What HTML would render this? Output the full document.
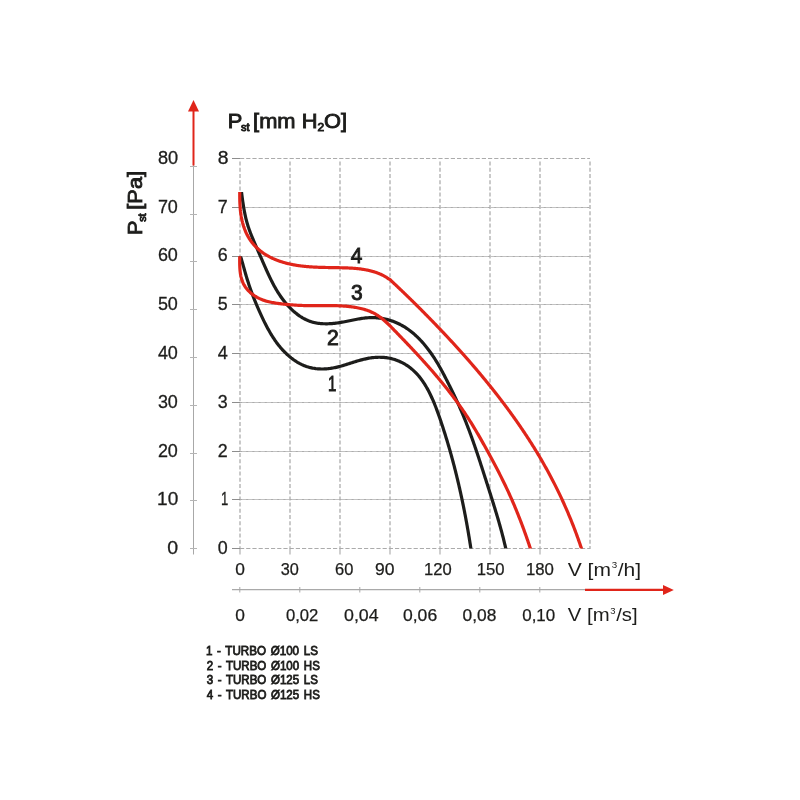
<!DOCTYPE html>
<html><head><meta charset="utf-8"><style>
html,body{margin:0;padding:0;background:#fff;width:800px;height:800px;overflow:hidden}
svg{display:block;will-change:transform}
text{font-family:"Liberation Sans",sans-serif;fill:#1d1d1b}
</style></head><body>
<svg width="800" height="800" viewBox="0 0 800 800">
<rect width="800" height="800" fill="#fff"/>
<line x1="240.0" y1="161.6" x2="240.0" y2="546.5" stroke="#c9c9c9" stroke-width="2" stroke-dasharray="4 2.2"/>
<line x1="240.0" y1="546.5" x2="240.0" y2="554.5" stroke="#c4c4c4" stroke-width="1.6"/>
<line x1="290.0" y1="161.6" x2="290.0" y2="546.5" stroke="#c9c9c9" stroke-width="2" stroke-dasharray="4 2.2"/>
<line x1="290.0" y1="546.5" x2="290.0" y2="554.5" stroke="#c4c4c4" stroke-width="1.6"/>
<line x1="340.0" y1="161.6" x2="340.0" y2="546.5" stroke="#c9c9c9" stroke-width="2" stroke-dasharray="4 2.2"/>
<line x1="340.0" y1="546.5" x2="340.0" y2="554.5" stroke="#c4c4c4" stroke-width="1.6"/>
<line x1="390.0" y1="161.6" x2="390.0" y2="546.5" stroke="#c9c9c9" stroke-width="2" stroke-dasharray="4 2.2"/>
<line x1="390.0" y1="546.5" x2="390.0" y2="554.5" stroke="#c4c4c4" stroke-width="1.6"/>
<line x1="440.0" y1="161.6" x2="440.0" y2="546.5" stroke="#c9c9c9" stroke-width="2" stroke-dasharray="4 2.2"/>
<line x1="440.0" y1="546.5" x2="440.0" y2="554.5" stroke="#c4c4c4" stroke-width="1.6"/>
<line x1="490.0" y1="161.6" x2="490.0" y2="546.5" stroke="#c9c9c9" stroke-width="2" stroke-dasharray="4 2.2"/>
<line x1="490.0" y1="546.5" x2="490.0" y2="554.5" stroke="#c4c4c4" stroke-width="1.6"/>
<line x1="540.0" y1="161.6" x2="540.0" y2="546.5" stroke="#c9c9c9" stroke-width="2" stroke-dasharray="4 2.2"/>
<line x1="540.0" y1="546.5" x2="540.0" y2="554.5" stroke="#c4c4c4" stroke-width="1.6"/>
<line x1="590.0" y1="161.6" x2="590.0" y2="549.0" stroke="#c9c9c9" stroke-width="2" stroke-dasharray="4 2.2"/>
<line x1="232" y1="548.5" x2="240" y2="548.5" stroke="#8d8d8d" stroke-width="1"/>
<line x1="240" y1="548.5" x2="590" y2="548.5" stroke="#ababab" stroke-width="1" stroke-dasharray="4.2 2"/>
<line x1="232" y1="499.5" x2="240" y2="499.5" stroke="#8d8d8d" stroke-width="1"/>
<line x1="240" y1="499.5" x2="590" y2="499.5" stroke="#c2c2c2" stroke-width="1"/>
<line x1="240" y1="499.5" x2="590" y2="499.5" stroke="#acacac" stroke-width="1" stroke-dasharray="2 4.2"/>
<line x1="232" y1="451.5" x2="240" y2="451.5" stroke="#8d8d8d" stroke-width="1"/>
<line x1="240" y1="451.5" x2="590" y2="451.5" stroke="#c2c2c2" stroke-width="1"/>
<line x1="240" y1="451.5" x2="590" y2="451.5" stroke="#acacac" stroke-width="1" stroke-dasharray="2 4.2"/>
<line x1="232" y1="402.5" x2="240" y2="402.5" stroke="#8d8d8d" stroke-width="1"/>
<line x1="240" y1="402.5" x2="590" y2="402.5" stroke="#c2c2c2" stroke-width="1"/>
<line x1="240" y1="402.5" x2="590" y2="402.5" stroke="#acacac" stroke-width="1" stroke-dasharray="2 4.2"/>
<line x1="232" y1="353.5" x2="240" y2="353.5" stroke="#8d8d8d" stroke-width="1"/>
<line x1="240" y1="353.5" x2="590" y2="353.5" stroke="#c2c2c2" stroke-width="1"/>
<line x1="240" y1="353.5" x2="590" y2="353.5" stroke="#acacac" stroke-width="1" stroke-dasharray="2 4.2"/>
<line x1="232" y1="304.5" x2="240" y2="304.5" stroke="#8d8d8d" stroke-width="1"/>
<line x1="240" y1="304.5" x2="590" y2="304.5" stroke="#c2c2c2" stroke-width="1"/>
<line x1="240" y1="304.5" x2="590" y2="304.5" stroke="#acacac" stroke-width="1" stroke-dasharray="2 4.2"/>
<line x1="232" y1="256.5" x2="240" y2="256.5" stroke="#8d8d8d" stroke-width="1"/>
<line x1="240" y1="256.5" x2="590" y2="256.5" stroke="#c2c2c2" stroke-width="1"/>
<line x1="240" y1="256.5" x2="590" y2="256.5" stroke="#acacac" stroke-width="1" stroke-dasharray="2 4.2"/>
<line x1="232" y1="207.5" x2="240" y2="207.5" stroke="#8d8d8d" stroke-width="1"/>
<line x1="240" y1="207.5" x2="590" y2="207.5" stroke="#c2c2c2" stroke-width="1"/>
<line x1="240" y1="207.5" x2="590" y2="207.5" stroke="#acacac" stroke-width="1" stroke-dasharray="2 4.2"/>
<line x1="232" y1="158.5" x2="240" y2="158.5" stroke="#8d8d8d" stroke-width="1"/>
<line x1="240" y1="158.5" x2="590" y2="158.5" stroke="#ababab" stroke-width="1" stroke-dasharray="4.2 2"/>
<line x1="193.5" y1="165" x2="193.5" y2="554.5" stroke="#a8a8a8" stroke-width="1"/>
<line x1="190" y1="166.5" x2="197" y2="166.5" stroke="#b5b5b5" stroke-width="1"/>
<line x1="190" y1="214.5" x2="197" y2="214.5" stroke="#b5b5b5" stroke-width="1"/>
<line x1="190" y1="261.5" x2="197" y2="261.5" stroke="#b5b5b5" stroke-width="1"/>
<line x1="190" y1="309.5" x2="197" y2="309.5" stroke="#b5b5b5" stroke-width="1"/>
<line x1="190" y1="357.5" x2="197" y2="357.5" stroke="#b5b5b5" stroke-width="1"/>
<line x1="190" y1="405.5" x2="197" y2="405.5" stroke="#b5b5b5" stroke-width="1"/>
<line x1="190" y1="453.5" x2="197" y2="453.5" stroke="#b5b5b5" stroke-width="1"/>
<line x1="190" y1="500.5" x2="197" y2="500.5" stroke="#b5b5b5" stroke-width="1"/>
<line x1="190" y1="548.5" x2="197" y2="548.5" stroke="#b5b5b5" stroke-width="1"/>
<line x1="193.5" y1="110" x2="193.5" y2="165.5" stroke="#e0251a" stroke-width="2"/>
<path d="M193.5 100 L199 111.5 L188 111.5 Z" fill="#e0251a"/>
<line x1="232" y1="589.6" x2="586" y2="589.6" stroke="#a9a9a9" stroke-width="1.1"/>
<line x1="239.8" y1="587" x2="239.8" y2="592.5" stroke="#a8a8a8" stroke-width="1"/>
<line x1="299.8" y1="587" x2="299.8" y2="592.5" stroke="#a8a8a8" stroke-width="1"/>
<line x1="359.8" y1="587" x2="359.8" y2="592.5" stroke="#a8a8a8" stroke-width="1"/>
<line x1="419.8" y1="587" x2="419.8" y2="592.5" stroke="#a8a8a8" stroke-width="1"/>
<line x1="479.8" y1="587" x2="479.8" y2="592.5" stroke="#a8a8a8" stroke-width="1"/>
<line x1="539.8" y1="587" x2="539.8" y2="592.5" stroke="#a8a8a8" stroke-width="1"/>
<line x1="585" y1="589.9" x2="663" y2="589.9" stroke="#e0251a" stroke-width="2.2"/>
<path d="M673.8 589.9 L663 584.9 L663 594.9 Z" fill="#e0251a"/>
<defs><clipPath id="ca"><rect x="236" y="192" width="360" height="356.6"/></clipPath><clipPath id="cb"><rect x="236" y="256.2" width="360" height="292.4"/></clipPath></defs>
<path clip-path="url(#cb)" d="M239.63 253.33 L240.50 256.20 L240.82 257.24 L241.13 258.28 L241.44 259.32 L241.74 260.36 L242.04 261.41 L242.34 262.45 L242.64 263.50 L242.94 264.55 L243.23 265.59 L243.53 266.64 L243.82 267.69 L244.12 268.74 L244.41 269.79 L244.71 270.84 L245.01 271.89 L245.31 272.94 L245.62 273.99 L245.92 275.03 L246.23 276.08 L246.55 277.12 L246.87 278.17 L247.19 279.21 L247.51 280.25 L247.84 281.29 L248.17 282.33 L248.51 283.36 L248.85 284.40 L249.20 285.43 L249.54 286.46 L249.90 287.49 L250.25 288.51 L250.61 289.54 L250.98 290.56 L251.35 291.58 L251.72 292.60 L252.10 293.62 L252.48 294.64 L252.86 295.65 L253.25 296.66 L253.65 297.67 L254.04 298.68 L254.44 299.69 L254.85 300.70 L255.26 301.70 L255.67 302.71 L256.08 303.71 L256.50 304.71 L256.93 305.71 L257.35 306.71 L257.79 307.71 L258.22 308.71 L258.66 309.71 L259.10 310.70 L259.55 311.70 L260.00 312.69 L260.45 313.69 L260.91 314.68 L261.37 315.67 L261.83 316.66 L262.30 317.65 L262.77 318.64 L263.24 319.63 L263.72 320.62 L264.21 321.60 L264.70 322.59 L265.19 323.57 L265.69 324.55 L266.19 325.52 L266.70 326.49 L267.22 327.46 L267.74 328.43 L268.27 329.39 L268.80 330.35 L269.34 331.30 L269.89 332.25 L270.44 333.19 L271.00 334.13 L271.57 335.07 L272.15 335.99 L272.73 336.92 L273.32 337.83 L273.92 338.74 L274.53 339.64 L275.14 340.54 L275.77 341.43 L276.40 342.31 L277.04 343.18 L277.69 344.05 L278.35 344.91 L279.03 345.76 L279.71 346.60 L280.40 347.43 L281.10 348.25 L281.81 349.06 L282.53 349.87 L283.26 350.66 L284.01 351.44 L284.76 352.21 L285.53 352.97 L286.31 353.72 L287.10 354.46 L287.90 355.19 L288.72 355.91 L289.54 356.61 L290.38 357.30 L291.23 357.98 L292.10 358.64 L292.97 359.29 L293.86 359.93 L294.76 360.55 L295.67 361.15 L296.59 361.73 L297.52 362.30 L298.46 362.84 L299.42 363.37 L300.38 363.87 L301.35 364.36 L302.32 364.82 L303.31 365.26 L304.31 365.67 L305.31 366.06 L306.32 366.43 L307.34 366.76 L308.37 367.08 L309.40 367.37 L310.44 367.63 L311.48 367.87 L312.53 368.09 L313.58 368.28 L314.64 368.45 L315.70 368.60 L316.77 368.72 L317.84 368.83 L318.91 368.90 L319.98 368.96 L321.06 369.00 L322.13 369.01 L323.21 369.00 L324.29 368.97 L325.37 368.92 L326.44 368.85 L327.52 368.76 L328.60 368.65 L329.67 368.52 L330.74 368.36 L331.81 368.19 L332.88 368.01 L333.95 367.80 L335.01 367.58 L336.08 367.35 L337.14 367.10 L338.20 366.83 L339.26 366.56 L340.32 366.28 L341.38 365.98 L342.43 365.68 L343.49 365.37 L344.55 365.05 L345.60 364.73 L346.66 364.40 L347.71 364.07 L348.76 363.73 L349.82 363.40 L350.87 363.06 L351.93 362.72 L352.98 362.39 L354.04 362.05 L355.10 361.72 L356.15 361.40 L357.21 361.08 L358.27 360.76 L359.33 360.46 L360.39 360.16 L361.45 359.87 L362.51 359.59 L363.58 359.32 L364.65 359.07 L365.71 358.82 L366.79 358.60 L367.86 358.38 L368.93 358.19 L370.01 358.01 L371.09 357.85 L372.17 357.71 L373.25 357.58 L374.33 357.48 L375.42 357.39 L376.50 357.33 L377.59 357.29 L378.67 357.26 L379.76 357.26 L380.84 357.28 L381.92 357.32 L383.00 357.38 L384.08 357.46 L385.15 357.56 L386.22 357.69 L387.29 357.84 L388.35 358.01 L389.41 358.21 L390.47 358.43 L391.52 358.67 L392.56 358.94 L393.60 359.23 L394.63 359.55 L395.66 359.89 L396.67 360.25 L397.68 360.64 L398.69 361.04 L399.68 361.47 L400.67 361.93 L401.64 362.40 L402.61 362.89 L403.56 363.41 L404.51 363.94 L405.44 364.50 L406.37 365.07 L407.28 365.67 L408.17 366.28 L409.06 366.91 L409.93 367.56 L410.79 368.23 L411.63 368.92 L412.46 369.62 L413.28 370.34 L414.07 371.07 L414.86 371.82 L415.63 372.59 L416.38 373.37 L417.12 374.16 L417.84 374.97 L418.55 375.79 L419.25 376.63 L419.93 377.48 L420.60 378.33 L421.25 379.21 L421.90 380.09 L422.53 380.98 L423.15 381.88 L423.75 382.79 L424.35 383.71 L424.93 384.64 L425.50 385.57 L426.06 386.51 L426.61 387.46 L427.16 388.42 L427.69 389.38 L428.21 390.35 L428.72 391.32 L429.22 392.30 L429.71 393.28 L430.20 394.26 L430.67 395.25 L431.14 396.23 L431.60 397.23 L432.06 398.22 L432.50 399.22 L432.94 400.22 L433.37 401.22 L433.80 402.22 L434.22 403.23 L434.63 404.24 L435.03 405.25 L435.44 406.26 L435.83 407.28 L436.22 408.29 L436.61 409.31 L436.99 410.33 L437.37 411.35 L437.74 412.38 L438.11 413.40 L438.48 414.42 L438.84 415.45 L439.20 416.48 L439.56 417.51 L439.91 418.54 L440.26 419.57 L440.61 420.60 L440.96 421.63 L441.31 422.66 L441.65 423.69 L442.00 424.72 L442.34 425.76 L442.68 426.79 L443.02 427.82 L443.35 428.86 L443.68 429.90 L444.02 430.93 L444.35 431.97 L444.68 433.01 L445.00 434.04 L445.33 435.08 L445.65 436.12 L445.97 437.16 L446.29 438.20 L446.61 439.24 L446.93 440.28 L447.24 441.32 L447.55 442.37 L447.86 443.41 L448.17 444.45 L448.48 445.49 L448.79 446.54 L449.09 447.58 L449.39 448.63 L449.69 449.67 L449.99 450.72 L450.29 451.77 L450.58 452.81 L450.88 453.86 L451.17 454.91 L451.46 455.96 L451.75 457.01 L452.04 458.06 L452.32 459.11 L452.60 460.16 L452.89 461.21 L453.17 462.26 L453.45 463.31 L453.72 464.36 L454.00 465.42 L454.27 466.47 L454.54 467.52 L454.81 468.58 L455.08 469.63 L455.35 470.69 L455.62 471.74 L455.88 472.80 L456.14 473.86 L456.40 474.91 L456.66 475.97 L456.92 477.03 L457.18 478.08 L457.43 479.14 L457.69 480.20 L457.94 481.26 L458.19 482.32 L458.44 483.38 L458.68 484.44 L458.93 485.50 L459.17 486.56 L459.42 487.62 L459.66 488.68 L459.90 489.75 L460.13 490.81 L460.37 491.87 L460.61 492.93 L460.84 494.00 L461.07 495.06 L461.30 496.12 L461.53 497.19 L461.76 498.25 L461.98 499.32 L462.21 500.38 L462.43 501.45 L462.65 502.52 L462.87 503.58 L463.09 504.65 L463.31 505.72 L463.53 506.78 L463.74 507.85 L463.95 508.92 L464.17 509.99 L464.38 511.05 L464.59 512.12 L464.79 513.19 L465.00 514.26 L465.20 515.33 L465.41 516.40 L465.61 517.47 L465.81 518.54 L466.01 519.61 L466.21 520.68 L466.40 521.75 L466.60 522.82 L466.79 523.90 L466.99 524.97 L467.18 526.04 L467.37 527.11 L467.56 528.18 L467.74 529.26 L467.93 530.33 L468.12 531.40 L468.30 532.48 L468.48 533.55 L468.66 534.62 L468.84 535.70 L469.02 536.77 L469.20 537.85 L469.37 538.92 L469.55 540.00 L469.72 541.07 L469.89 542.15 L470.06 543.22 L470.23 544.30 L470.40 545.37 L470.57 546.45 L470.74 547.52 L470.90 548.60 L471.36 551.57" fill="none" stroke="#1d1d1b" stroke-width="3.2" stroke-linecap="butt" stroke-linejoin="round"/>
<path clip-path="url(#ca)" d="M241.12 189.02 L241.50 192.00 L241.66 193.23 L241.82 194.46 L241.98 195.69 L242.14 196.92 L242.30 198.16 L242.47 199.39 L242.65 200.62 L242.82 201.86 L243.01 203.09 L243.19 204.33 L243.39 205.56 L243.59 206.79 L243.79 208.02 L244.01 209.25 L244.23 210.48 L244.46 211.71 L244.70 212.93 L244.95 214.15 L245.21 215.37 L245.48 216.59 L245.76 217.80 L246.05 219.01 L246.36 220.22 L246.67 221.42 L247.00 222.62 L247.34 223.81 L247.70 225.00 L248.07 226.19 L248.45 227.37 L248.85 228.54 L249.26 229.71 L249.69 230.88 L250.12 232.05 L250.56 233.21 L251.02 234.36 L251.48 235.52 L251.95 236.67 L252.42 237.82 L252.90 238.97 L253.39 240.11 L253.88 241.26 L254.37 242.40 L254.86 243.54 L255.35 244.68 L255.85 245.82 L256.34 246.96 L256.84 248.10 L257.33 249.24 L257.83 250.38 L258.33 251.52 L258.83 252.66 L259.32 253.80 L259.82 254.93 L260.32 256.07 L260.82 257.21 L261.32 258.35 L261.81 259.49 L262.31 260.63 L262.81 261.77 L263.31 262.91 L263.81 264.05 L264.30 265.19 L264.80 266.32 L265.31 267.46 L265.81 268.60 L266.31 269.74 L266.82 270.87 L267.34 272.01 L267.85 273.14 L268.37 274.27 L268.90 275.39 L269.43 276.52 L269.96 277.64 L270.50 278.76 L271.05 279.87 L271.61 280.98 L272.17 282.09 L272.74 283.19 L273.32 284.29 L273.90 285.38 L274.50 286.47 L275.10 287.55 L275.72 288.63 L276.35 289.70 L276.98 290.77 L277.63 291.83 L278.29 292.88 L278.96 293.93 L279.64 294.96 L280.34 296.00 L281.05 297.02 L281.77 298.04 L282.51 299.05 L283.26 300.05 L284.03 301.04 L284.82 302.02 L285.62 303.00 L286.43 303.96 L287.26 304.91 L288.11 305.85 L288.97 306.78 L289.85 307.70 L290.74 308.59 L291.65 309.48 L292.57 310.34 L293.50 311.19 L294.45 312.01 L295.41 312.82 L296.39 313.60 L297.38 314.37 L298.39 315.11 L299.40 315.82 L300.43 316.51 L301.48 317.17 L302.53 317.80 L303.60 318.41 L304.68 318.98 L305.77 319.53 L306.87 320.04 L307.99 320.52 L309.12 320.97 L310.25 321.38 L311.40 321.75 L312.56 322.09 L313.73 322.40 L314.91 322.67 L316.10 322.91 L317.29 323.12 L318.49 323.30 L319.70 323.45 L320.92 323.57 L322.14 323.66 L323.37 323.73 L324.61 323.77 L325.84 323.79 L327.09 323.78 L328.33 323.76 L329.58 323.70 L330.83 323.63 L332.08 323.54 L333.34 323.43 L334.59 323.30 L335.85 323.15 L337.10 322.99 L338.35 322.81 L339.61 322.62 L340.86 322.42 L342.10 322.20 L343.35 321.97 L344.59 321.74 L345.84 321.49 L347.08 321.25 L348.32 320.99 L349.56 320.74 L350.80 320.48 L352.03 320.23 L353.27 319.98 L354.50 319.73 L355.74 319.49 L356.97 319.25 L358.20 319.03 L359.44 318.81 L360.67 318.61 L361.90 318.42 L363.13 318.25 L364.37 318.10 L365.60 317.96 L366.83 317.84 L368.07 317.75 L369.30 317.68 L370.53 317.63 L371.77 317.61 L373.01 317.62 L374.24 317.65 L375.48 317.71 L376.71 317.79 L377.94 317.90 L379.17 318.04 L380.39 318.20 L381.62 318.38 L382.83 318.59 L384.05 318.82 L385.26 319.08 L386.46 319.36 L387.66 319.67 L388.85 320.00 L390.04 320.35 L391.21 320.72 L392.38 321.12 L393.54 321.55 L394.69 321.99 L395.84 322.46 L396.97 322.95 L398.09 323.46 L399.20 324.00 L400.30 324.55 L401.39 325.13 L402.46 325.73 L403.53 326.35 L404.58 326.99 L405.62 327.65 L406.65 328.33 L407.67 329.03 L408.68 329.74 L409.67 330.48 L410.66 331.23 L411.63 332.00 L412.59 332.78 L413.55 333.58 L414.49 334.40 L415.41 335.23 L416.33 336.07 L417.24 336.93 L418.14 337.81 L419.02 338.69 L419.90 339.59 L420.76 340.50 L421.61 341.42 L422.46 342.36 L423.29 343.30 L424.11 344.26 L424.92 345.22 L425.72 346.19 L426.51 347.18 L427.29 348.17 L428.06 349.17 L428.82 350.17 L429.57 351.19 L430.31 352.21 L431.04 353.23 L431.76 354.26 L432.47 355.30 L433.17 356.34 L433.86 357.39 L434.54 358.43 L435.21 359.49 L435.87 360.54 L436.52 361.60 L437.16 362.66 L437.80 363.72 L438.42 364.79 L439.04 365.85 L439.65 366.92 L440.26 368.00 L440.86 369.07 L441.45 370.15 L442.04 371.23 L442.62 372.31 L443.20 373.40 L443.78 374.49 L444.35 375.58 L444.91 376.67 L445.48 377.76 L446.04 378.86 L446.60 379.95 L447.16 381.05 L447.72 382.16 L448.27 383.26 L448.83 384.37 L449.38 385.47 L449.93 386.58 L450.49 387.69 L451.04 388.81 L451.58 389.92 L452.13 391.04 L452.68 392.15 L453.22 393.27 L453.76 394.40 L454.30 395.52 L454.84 396.64 L455.37 397.77 L455.90 398.90 L456.43 400.03 L456.95 401.16 L457.47 402.29 L457.99 403.43 L458.51 404.56 L459.02 405.70 L459.52 406.84 L460.03 407.98 L460.53 409.12 L461.02 410.26 L461.52 411.41 L462.00 412.55 L462.49 413.70 L462.97 414.85 L463.45 416.00 L463.92 417.15 L464.39 418.30 L464.86 419.46 L465.32 420.61 L465.78 421.77 L466.24 422.92 L466.69 424.08 L467.14 425.24 L467.59 426.40 L468.03 427.56 L468.48 428.73 L468.92 429.89 L469.35 431.05 L469.79 432.22 L470.22 433.38 L470.65 434.55 L471.07 435.72 L471.50 436.89 L471.92 438.06 L472.34 439.23 L472.75 440.40 L473.17 441.57 L473.58 442.75 L473.99 443.92 L474.40 445.09 L474.81 446.27 L475.21 447.45 L475.61 448.62 L476.01 449.80 L476.41 450.98 L476.81 452.15 L477.21 453.33 L477.60 454.51 L478.00 455.69 L478.39 456.87 L478.78 458.05 L479.17 459.23 L479.56 460.42 L479.95 461.60 L480.33 462.78 L480.72 463.96 L481.10 465.15 L481.49 466.33 L481.87 467.51 L482.25 468.70 L482.63 469.88 L483.01 471.07 L483.40 472.25 L483.78 473.43 L484.16 474.62 L484.53 475.80 L484.91 476.99 L485.29 478.17 L485.67 479.36 L486.05 480.55 L486.43 481.73 L486.81 482.92 L487.19 484.10 L487.57 485.29 L487.95 486.47 L488.33 487.66 L488.70 488.84 L489.08 490.03 L489.46 491.21 L489.84 492.40 L490.22 493.58 L490.59 494.77 L490.97 495.96 L491.34 497.14 L491.72 498.33 L492.09 499.51 L492.46 500.70 L492.84 501.89 L493.21 503.08 L493.58 504.26 L493.94 505.45 L494.31 506.64 L494.68 507.83 L495.04 509.02 L495.40 510.21 L495.77 511.40 L496.13 512.59 L496.48 513.78 L496.84 514.97 L497.19 516.16 L497.55 517.35 L497.90 518.55 L498.25 519.74 L498.59 520.93 L498.94 522.13 L499.28 523.32 L499.62 524.52 L499.95 525.72 L500.29 526.91 L500.62 528.11 L500.95 529.31 L501.28 530.51 L501.60 531.71 L501.92 532.91 L502.24 534.11 L502.55 535.31 L502.87 536.52 L503.18 537.72 L503.48 538.93 L503.78 540.13 L504.08 541.34 L504.38 542.55 L504.67 543.76 L504.96 544.96 L505.24 546.18 L505.53 547.39 L505.80 548.60 L506.47 551.52" fill="none" stroke="#1d1d1b" stroke-width="3.2" stroke-linecap="butt" stroke-linejoin="round"/>
<path clip-path="url(#cb)" d="M239.71 253.20 L239.70 256.20 L239.70 257.31 L239.69 258.43 L239.69 259.55 L239.68 260.68 L239.69 261.82 L239.69 262.97 L239.71 264.11 L239.74 265.26 L239.78 266.41 L239.83 267.57 L239.90 268.72 L239.98 269.86 L240.09 271.01 L240.22 272.15 L240.37 273.28 L240.54 274.40 L240.74 275.52 L240.97 276.62 L241.24 277.71 L241.53 278.79 L241.86 279.86 L242.22 280.91 L242.62 281.94 L243.07 282.96 L243.55 283.96 L244.08 284.93 L244.64 285.89 L245.25 286.82 L245.90 287.73 L246.58 288.62 L247.30 289.48 L248.05 290.33 L248.84 291.14 L249.65 291.93 L250.50 292.70 L251.37 293.44 L252.26 294.16 L253.18 294.84 L254.12 295.51 L255.08 296.14 L256.07 296.74 L257.06 297.32 L258.08 297.86 L259.11 298.38 L260.15 298.86 L261.20 299.32 L262.26 299.74 L263.33 300.14 L264.42 300.51 L265.51 300.86 L266.60 301.18 L267.71 301.48 L268.82 301.76 L269.93 302.02 L271.06 302.26 L272.18 302.48 L273.31 302.69 L274.44 302.89 L275.58 303.07 L276.71 303.24 L277.85 303.40 L278.99 303.56 L280.12 303.70 L281.26 303.84 L282.39 303.98 L283.53 304.11 L284.66 304.23 L285.79 304.35 L286.92 304.46 L288.05 304.57 L289.18 304.67 L290.31 304.76 L291.43 304.86 L292.56 304.94 L293.69 305.02 L294.81 305.10 L295.94 305.17 L297.07 305.23 L298.19 305.30 L299.32 305.35 L300.45 305.40 L301.58 305.45 L302.70 305.49 L303.83 305.53 L304.96 305.56 L306.09 305.59 L307.22 305.62 L308.35 305.64 L309.48 305.65 L310.61 305.66 L311.75 305.67 L312.88 305.67 L314.02 305.68 L315.15 305.67 L316.29 305.67 L317.42 305.66 L318.56 305.66 L319.70 305.65 L320.84 305.64 L321.98 305.63 L323.12 305.63 L324.26 305.62 L325.40 305.61 L326.54 305.61 L327.68 305.61 L328.82 305.61 L329.97 305.61 L331.11 305.62 L332.25 305.63 L333.39 305.65 L334.53 305.67 L335.68 305.69 L336.82 305.72 L337.96 305.76 L339.10 305.80 L340.24 305.85 L341.38 305.91 L342.52 305.98 L343.66 306.05 L344.80 306.13 L345.94 306.22 L347.08 306.32 L348.22 306.43 L349.36 306.56 L350.49 306.69 L351.63 306.83 L352.76 306.98 L353.90 307.15 L355.03 307.33 L356.15 307.52 L357.28 307.73 L358.39 307.95 L359.51 308.19 L360.62 308.44 L361.72 308.71 L362.81 309.00 L363.90 309.30 L364.98 309.63 L366.06 309.97 L367.12 310.33 L368.17 310.70 L369.22 311.10 L370.25 311.52 L371.27 311.97 L372.28 312.43 L373.28 312.92 L374.27 313.43 L375.24 313.96 L376.20 314.52 L377.14 315.10 L378.07 315.70 L378.99 316.33 L379.90 316.97 L380.79 317.64 L381.68 318.32 L382.55 319.03 L383.41 319.74 L384.27 320.48 L385.11 321.22 L385.95 321.98 L386.79 322.75 L387.61 323.53 L388.43 324.32 L389.25 325.12 L390.06 325.93 L390.87 326.74 L391.67 327.55 L392.47 328.37 L393.27 329.19 L394.07 330.01 L394.87 330.83 L395.67 331.66 L396.47 332.48 L397.26 333.30 L398.06 334.13 L398.86 334.95 L399.65 335.77 L400.45 336.60 L401.24 337.42 L402.03 338.25 L402.83 339.07 L403.62 339.90 L404.41 340.72 L405.20 341.55 L405.99 342.37 L406.78 343.20 L407.56 344.03 L408.35 344.86 L409.13 345.69 L409.92 346.52 L410.70 347.35 L411.49 348.18 L412.27 349.01 L413.05 349.84 L413.83 350.67 L414.60 351.51 L415.38 352.34 L416.16 353.18 L416.93 354.01 L417.70 354.85 L418.48 355.69 L419.25 356.52 L420.02 357.36 L420.78 358.20 L421.55 359.04 L422.32 359.89 L423.08 360.73 L423.84 361.57 L424.60 362.42 L425.36 363.26 L426.12 364.11 L426.88 364.96 L427.63 365.81 L428.38 366.66 L429.14 367.51 L429.89 368.36 L430.63 369.21 L431.38 370.07 L432.12 370.92 L432.87 371.78 L433.61 372.64 L434.35 373.50 L435.09 374.36 L435.82 375.22 L436.56 376.09 L437.29 376.95 L438.02 377.82 L438.75 378.69 L439.47 379.56 L440.20 380.43 L440.92 381.30 L441.64 382.18 L442.36 383.05 L443.07 383.93 L443.79 384.81 L444.50 385.69 L445.21 386.57 L445.92 387.45 L446.62 388.34 L447.32 389.23 L448.02 390.11 L448.72 391.00 L449.42 391.90 L450.11 392.79 L450.80 393.69 L451.49 394.58 L452.18 395.48 L452.86 396.38 L453.54 397.29 L454.22 398.19 L454.90 399.10 L455.57 400.01 L456.24 400.92 L456.91 401.83 L457.58 402.75 L458.24 403.67 L458.90 404.59 L459.56 405.51 L460.21 406.43 L460.87 407.36 L461.52 408.28 L462.16 409.21 L462.81 410.15 L463.45 411.08 L464.09 412.02 L464.72 412.96 L465.35 413.90 L465.98 414.84 L466.61 415.79 L467.23 416.73 L467.85 417.69 L468.47 418.64 L469.09 419.59 L469.70 420.55 L470.30 421.51 L470.91 422.47 L471.51 423.44 L472.11 424.41 L472.71 425.38 L473.30 426.35 L473.89 427.32 L474.48 428.30 L475.06 429.27 L475.65 430.25 L476.23 431.23 L476.81 432.22 L477.38 433.20 L477.96 434.18 L478.53 435.17 L479.10 436.16 L479.67 437.15 L480.23 438.14 L480.80 439.13 L481.36 440.12 L481.92 441.11 L482.48 442.11 L483.03 443.10 L483.59 444.10 L484.14 445.09 L484.70 446.09 L485.25 447.09 L485.80 448.08 L486.35 449.08 L486.90 450.08 L487.44 451.08 L487.99 452.07 L488.53 453.07 L489.08 454.07 L489.62 455.07 L490.16 456.07 L490.70 457.06 L491.24 458.06 L491.78 459.06 L492.32 460.06 L492.85 461.06 L493.39 462.06 L493.92 463.06 L494.45 464.06 L494.98 465.06 L495.51 466.07 L496.04 467.07 L496.56 468.07 L497.09 469.08 L497.61 470.08 L498.13 471.09 L498.65 472.09 L499.17 473.10 L499.68 474.11 L500.20 475.12 L500.71 476.13 L501.22 477.14 L501.72 478.15 L502.23 479.17 L502.73 480.18 L503.23 481.20 L503.73 482.21 L504.23 483.23 L504.72 484.25 L505.22 485.27 L505.71 486.29 L506.19 487.32 L506.68 488.34 L507.16 489.37 L507.64 490.40 L508.12 491.43 L508.59 492.46 L509.07 493.49 L509.54 494.53 L510.00 495.56 L510.47 496.60 L510.93 497.64 L511.39 498.68 L511.85 499.72 L512.31 500.76 L512.76 501.80 L513.21 502.85 L513.66 503.90 L514.10 504.94 L514.55 505.99 L514.99 507.04 L515.43 508.09 L515.86 509.15 L516.29 510.20 L516.73 511.25 L517.16 512.31 L517.58 513.36 L518.01 514.42 L518.43 515.48 L518.85 516.54 L519.27 517.60 L519.68 518.66 L520.09 519.72 L520.50 520.78 L520.91 521.85 L521.32 522.91 L521.72 523.98 L522.12 525.04 L522.52 526.11 L522.92 527.17 L523.31 528.24 L523.71 529.31 L524.10 530.38 L524.48 531.45 L524.87 532.52 L525.25 533.59 L525.64 534.66 L526.02 535.73 L526.39 536.80 L526.77 537.87 L527.14 538.94 L527.51 540.01 L527.88 541.09 L528.25 542.16 L528.61 543.23 L528.97 544.30 L529.33 545.38 L529.69 546.45 L530.05 547.53 L530.40 548.60 L531.34 551.45" fill="none" stroke="#e0251a" stroke-width="3.2" stroke-linecap="butt" stroke-linejoin="round"/>
<path clip-path="url(#ca)" d="M239.77 189.00 L239.75 192.00 L239.75 192.50 L239.74 192.99 L239.74 193.49 L239.74 193.98 L239.74 194.48 L239.74 194.98 L239.74 195.48 L239.74 195.97 L239.74 196.47 L239.75 196.97 L239.75 197.47 L239.76 197.97 L239.76 198.47 L239.77 198.96 L239.78 199.46 L239.79 199.96 L239.80 200.46 L239.82 200.96 L239.83 201.47 L239.85 201.97 L239.87 202.47 L239.89 202.97 L239.91 203.47 L239.93 203.97 L239.96 204.47 L239.99 204.97 L240.02 205.47 L240.05 205.97 L240.08 206.47 L240.12 206.97 L240.15 207.48 L240.19 207.98 L240.23 208.48 L240.28 208.98 L240.33 209.48 L240.37 209.98 L240.43 210.48 L240.48 210.98 L240.53 211.48 L240.59 211.98 L240.66 212.47 L240.72 212.97 L240.79 213.47 L240.86 213.97 L240.93 214.47 L241.00 214.96 L241.08 215.46 L241.16 215.96 L241.25 216.45 L241.33 216.95 L241.42 217.44 L241.52 217.94 L241.61 218.43 L241.71 218.92 L241.82 219.41 L241.92 219.90 L242.03 220.40 L242.15 220.88 L242.26 221.37 L242.38 221.86 L242.50 222.35 L242.63 222.83 L242.76 223.32 L242.89 223.80 L243.03 224.28 L243.17 224.76 L243.31 225.24 L243.46 225.72 L243.61 226.20 L243.77 226.67 L243.92 227.15 L244.09 227.62 L244.25 228.09 L244.42 228.56 L244.59 229.03 L244.77 229.49 L244.95 229.96 L245.13 230.42 L245.32 230.88 L245.52 231.34 L245.71 231.79 L245.91 232.25 L246.12 232.70 L246.32 233.15 L246.54 233.60 L246.75 234.04 L246.97 234.49 L247.20 234.93 L247.42 235.37 L247.66 235.81 L247.89 236.24 L248.14 236.67 L248.38 237.10 L248.63 237.53 L248.89 237.95 L249.14 238.37 L249.41 238.79 L249.67 239.21 L249.95 239.62 L250.22 240.03 L250.50 240.44 L250.79 240.84 L251.08 241.25 L251.37 241.64 L251.67 242.04 L251.97 242.43 L252.27 242.82 L252.58 243.21 L252.90 243.59 L253.22 243.98 L253.54 244.35 L253.87 244.73 L254.19 245.10 L254.53 245.47 L254.87 245.83 L255.21 246.19 L255.55 246.55 L255.90 246.91 L256.25 247.26 L256.61 247.61 L256.97 247.95 L257.33 248.30 L257.70 248.64 L258.07 248.97 L258.44 249.30 L258.82 249.63 L259.20 249.96 L259.58 250.28 L259.96 250.60 L260.35 250.91 L260.74 251.22 L261.14 251.53 L261.54 251.83 L261.94 252.13 L262.34 252.43 L262.75 252.72 L263.16 253.01 L263.57 253.30 L263.99 253.58 L264.40 253.86 L264.82 254.13 L265.25 254.40 L265.67 254.67 L266.10 254.93 L266.53 255.19 L266.96 255.45 L267.40 255.70 L267.84 255.95 L268.27 256.19 L268.72 256.43 L269.16 256.67 L269.61 256.91 L270.05 257.14 L270.50 257.36 L270.95 257.59 L271.41 257.81 L271.86 258.02 L272.32 258.24 L272.77 258.45 L273.23 258.65 L273.69 258.86 L274.16 259.06 L274.62 259.25 L275.09 259.45 L275.55 259.64 L276.02 259.82 L276.49 260.01 L276.96 260.19 L277.43 260.37 L277.90 260.54 L278.37 260.72 L278.84 260.89 L279.31 261.05 L279.79 261.22 L280.26 261.38 L280.74 261.53 L281.21 261.69 L281.69 261.84 L282.17 261.99 L282.64 262.14 L283.12 262.28 L283.60 262.42 L284.08 262.56 L284.56 262.70 L285.04 262.83 L285.52 262.96 L286.00 263.09 L286.48 263.22 L286.96 263.34 L287.45 263.46 L287.93 263.58 L288.41 263.70 L288.90 263.81 L289.38 263.92 L289.87 264.03 L290.35 264.14 L290.84 264.24 L291.32 264.34 L291.81 264.44 L292.30 264.54 L292.79 264.64 L293.27 264.73 L293.76 264.82 L294.25 264.91 L294.74 265.00 L295.23 265.08 L295.72 265.17 L296.21 265.25 L296.70 265.33 L297.19 265.41 L297.69 265.48 L298.18 265.55 L298.67 265.63 L299.16 265.70 L299.66 265.76 L300.15 265.83 L300.64 265.89 L301.14 265.96 L301.63 266.02 L302.13 266.08 L302.62 266.14 L303.12 266.19 L303.61 266.25 L304.11 266.30 L304.61 266.35 L305.10 266.40 L305.60 266.45 L306.10 266.50 L306.60 266.54 L307.09 266.59 L307.59 266.63 L308.09 266.67 L308.59 266.71 L309.09 266.75 L309.59 266.79 L310.09 266.83 L310.59 266.86 L311.09 266.89 L311.59 266.93 L312.09 266.96 L312.59 266.99 L313.09 267.02 L313.59 267.05 L314.09 267.08 L314.60 267.10 L315.10 267.13 L315.60 267.15 L316.10 267.18 L316.60 267.20 L317.11 267.22 L317.61 267.24 L318.11 267.26 L318.62 267.28 L319.12 267.30 L319.62 267.32 L320.13 267.33 L320.63 267.35 L321.13 267.37 L321.64 267.38 L322.14 267.40 L322.65 267.41 L323.15 267.42 L323.66 267.44 L324.16 267.45 L324.66 267.46 L325.17 267.47 L325.67 267.48 L326.18 267.49 L326.68 267.50 L327.19 267.51 L327.69 267.52 L328.20 267.53 L328.71 267.54 L329.21 267.55 L329.72 267.56 L330.22 267.57 L330.73 267.58 L331.23 267.59 L331.74 267.59 L332.24 267.60 L332.75 267.61 L333.26 267.62 L333.76 267.63 L334.27 267.63 L334.77 267.64 L335.28 267.65 L335.78 267.66 L336.29 267.67 L336.79 267.67 L337.30 267.68 L337.81 267.69 L338.31 267.70 L338.82 267.71 L339.32 267.72 L339.83 267.73 L340.33 267.74 L340.84 267.75 L341.34 267.76 L341.85 267.77 L342.35 267.79 L342.86 267.80 L343.36 267.81 L343.87 267.83 L344.37 267.84 L344.87 267.86 L345.38 267.87 L345.88 267.89 L346.38 267.91 L346.89 267.93 L347.39 267.95 L347.89 267.97 L348.40 267.99 L348.90 268.01 L349.40 268.04 L349.90 268.06 L350.40 268.09 L350.90 268.12 L351.40 268.15 L351.90 268.18 L352.40 268.21 L352.90 268.24 L353.40 268.28 L353.90 268.32 L354.40 268.35 L354.90 268.39 L355.39 268.44 L355.89 268.48 L356.39 268.53 L356.88 268.57 L357.38 268.62 L357.87 268.67 L358.36 268.73 L358.86 268.78 L359.35 268.84 L359.84 268.90 L360.33 268.96 L360.83 269.02 L361.32 269.09 L361.81 269.16 L362.30 269.23 L362.78 269.30 L363.27 269.38 L363.76 269.46 L364.25 269.54 L364.73 269.62 L365.22 269.71 L365.70 269.79 L366.18 269.89 L366.67 269.98 L367.15 270.08 L367.63 270.18 L368.11 270.28 L368.59 270.38 L369.07 270.49 L369.54 270.60 L370.02 270.72 L370.50 270.84 L370.97 270.96 L371.45 271.08 L371.92 271.21 L372.39 271.34 L372.86 271.48 L373.33 271.61 L373.80 271.76 L374.27 271.90 L374.74 272.05 L375.20 272.20 L375.67 272.36 L376.13 272.52 L376.60 272.68 L377.06 272.85 L377.52 273.02 L377.98 273.19 L378.44 273.37 L378.90 273.55 L379.35 273.74 L379.81 273.93 L380.26 274.12 L380.72 274.32 L381.17 274.53 L381.62 274.73 L382.07 274.95 L382.51 275.16 L382.96 275.38 L383.41 275.61 L383.85 275.84 L384.29 276.07 L384.74 276.31 L385.18 276.55 L385.62 276.80 L386.00 277.02 L386.21 277.15 L386.41 277.29 L386.62 277.44 L386.83 277.60 L387.03 277.77 L387.24 277.93 L387.45 278.09 L387.66 278.25 L387.86 278.41 L388.07 278.55 L388.28 278.69 L388.48 278.82 L388.69 278.93 L388.90 279.03 L389.10 279.12 L389.31 279.19 L389.52 279.26 L389.72 279.38 L389.93 279.52 L390.14 279.67 L390.34 279.85 L390.55 280.04 L390.76 280.25 L390.97 280.46 L391.17 280.68 L391.38 280.90 L391.59 281.12 L391.79 281.33 L392.00 281.53 L392.59 282.08 L393.20 282.65 L393.81 283.22 L394.42 283.80 L395.03 284.37 L395.64 284.95 L396.25 285.52 L396.86 286.10 L397.47 286.67 L398.08 287.25 L398.68 287.82 L399.29 288.40 L399.90 288.98 L400.50 289.56 L401.11 290.14 L401.71 290.71 L402.32 291.29 L402.92 291.87 L403.53 292.45 L404.13 293.04 L404.73 293.62 L405.34 294.20 L405.94 294.78 L406.54 295.36 L407.14 295.95 L407.74 296.53 L408.34 297.12 L408.94 297.70 L409.54 298.29 L410.14 298.87 L410.74 299.46 L411.34 300.04 L411.94 300.63 L412.53 301.22 L413.13 301.81 L413.73 302.40 L414.32 302.98 L414.92 303.57 L415.52 304.16 L416.11 304.75 L416.71 305.34 L417.30 305.94 L417.89 306.53 L418.49 307.12 L419.08 307.71 L419.67 308.30 L420.27 308.90 L420.86 309.49 L421.45 310.08 L422.04 310.68 L422.63 311.27 L423.22 311.87 L423.81 312.47 L424.40 313.06 L424.99 313.66 L425.58 314.26 L426.17 314.85 L426.75 315.45 L427.34 316.05 L427.93 316.65 L428.52 317.25 L429.10 317.85 L429.69 318.45 L430.27 319.05 L430.86 319.65 L431.44 320.25 L432.03 320.85 L432.61 321.45 L433.20 322.05 L433.78 322.66 L434.36 323.26 L434.94 323.86 L435.53 324.47 L436.11 325.07 L436.69 325.68 L437.27 326.28 L437.85 326.89 L438.43 327.49 L439.01 328.10 L439.59 328.71 L440.17 329.32 L440.75 329.92 L441.32 330.53 L441.90 331.14 L442.48 331.75 L443.05 332.36 L443.63 332.97 L444.20 333.58 L444.78 334.19 L445.35 334.80 L445.93 335.41 L446.50 336.03 L447.07 336.64 L447.65 337.25 L448.22 337.87 L448.79 338.48 L449.36 339.09 L449.93 339.71 L450.50 340.32 L451.07 340.94 L451.64 341.56 L452.21 342.17 L452.78 342.79 L453.35 343.41 L453.91 344.03 L454.48 344.65 L455.04 345.26 L455.61 345.88 L456.17 346.50 L456.74 347.13 L457.30 347.75 L457.87 348.37 L458.43 348.99 L458.99 349.61 L459.55 350.24 L460.11 350.86 L460.67 351.48 L461.23 352.11 L461.79 352.73 L462.35 353.36 L462.91 353.98 L463.47 354.61 L464.03 355.24 L464.58 355.86 L465.14 356.49 L465.69 357.12 L466.25 357.75 L466.80 358.38 L467.36 359.01 L467.91 359.64 L468.46 360.27 L469.01 360.90 L469.56 361.53 L470.11 362.17 L470.66 362.80 L471.21 363.43 L471.76 364.07 L472.31 364.70 L472.86 365.34 L473.40 365.97 L473.95 366.61 L474.49 367.24 L475.04 367.88 L475.58 368.52 L476.13 369.16 L476.67 369.80 L477.21 370.43 L477.75 371.07 L478.29 371.71 L478.83 372.36 L479.37 373.00 L479.91 373.64 L480.45 374.28 L480.99 374.92 L481.52 375.57 L482.06 376.21 L482.60 376.86 L483.13 377.50 L483.66 378.15 L484.20 378.79 L484.73 379.44 L485.26 380.09 L485.79 380.74 L486.32 381.39 L486.85 382.03 L487.38 382.68 L487.91 383.33 L488.44 383.99 L488.96 384.64 L489.49 385.29 L490.02 385.94 L490.54 386.59 L491.06 387.25 L491.59 387.90 L492.11 388.56 L492.63 389.21 L493.15 389.87 L493.67 390.53 L494.19 391.18 L494.71 391.84 L495.23 392.50 L495.74 393.16 L496.26 393.82 L496.78 394.48 L497.29 395.14 L497.80 395.80 L498.32 396.46 L498.83 397.12 L499.34 397.79 L499.85 398.45 L500.36 399.12 L500.87 399.78 L501.38 400.45 L501.88 401.11 L502.39 401.78 L502.90 402.45 L503.40 403.12 L503.91 403.78 L504.41 404.45 L504.91 405.12 L505.41 405.79 L505.91 406.46 L506.41 407.14 L506.91 407.81 L507.41 408.48 L507.91 409.16 L508.40 409.83 L508.90 410.50 L509.39 411.18 L509.89 411.86 L510.38 412.53 L510.87 413.21 L511.36 413.89 L511.85 414.57 L512.34 415.25 L512.83 415.93 L513.32 416.61 L513.80 417.29 L514.29 417.97 L514.77 418.65 L515.26 419.34 L515.74 420.02 L516.22 420.70 L516.70 421.39 L517.18 422.07 L517.66 422.76 L518.14 423.45 L518.61 424.14 L519.09 424.82 L519.56 425.51 L520.04 426.20 L520.51 426.89 L520.98 427.58 L521.45 428.28 L521.92 428.97 L522.39 429.66 L522.86 430.36 L523.33 431.05 L523.79 431.75 L524.26 432.44 L524.72 433.14 L525.18 433.83 L525.64 434.53 L526.11 435.23 L526.56 435.93 L527.02 436.63 L527.48 437.33 L527.94 438.03 L528.39 438.73 L528.85 439.44 L529.30 440.14 L529.75 440.84 L530.20 441.55 L530.65 442.25 L531.10 442.96 L531.55 443.67 L531.99 444.37 L532.44 445.08 L532.88 445.79 L533.33 446.50 L533.77 447.21 L534.21 447.92 L534.65 448.63 L535.09 449.34 L535.52 450.06 L535.96 450.77 L536.40 451.49 L536.83 452.20 L537.26 452.92 L537.69 453.63 L538.12 454.35 L538.55 455.07 L538.98 455.79 L539.41 456.51 L539.83 457.23 L540.26 457.95 L540.68 458.67 L541.10 459.39 L541.52 460.11 L541.94 460.84 L542.36 461.56 L542.78 462.29 L543.19 463.01 L543.61 463.74 L544.02 464.47 L544.43 465.20 L544.84 465.93 L545.25 466.66 L545.66 467.39 L546.07 468.12 L546.48 468.85 L546.88 469.58 L547.28 470.31 L547.69 471.05 L548.09 471.78 L548.49 472.52 L548.88 473.25 L549.28 473.99 L549.68 474.73 L550.07 475.47 L550.47 476.20 L550.86 476.94 L551.25 477.68 L551.64 478.43 L552.03 479.17 L552.41 479.91 L552.80 480.65 L553.18 481.40 L553.57 482.14 L553.95 482.89 L554.33 483.63 L554.71 484.38 L555.09 485.12 L555.46 485.87 L555.84 486.62 L556.21 487.37 L556.59 488.12 L556.96 488.87 L557.33 489.62 L557.70 490.37 L558.06 491.13 L558.43 491.88 L558.80 492.63 L559.16 493.39 L559.52 494.14 L559.88 494.90 L560.24 495.66 L560.60 496.41 L560.96 497.17 L561.31 497.93 L561.67 498.69 L562.02 499.45 L562.37 500.21 L562.72 500.97 L563.07 501.73 L563.42 502.50 L563.77 503.26 L564.11 504.02 L564.46 504.79 L564.80 505.55 L565.14 506.32 L565.48 507.08 L565.82 507.85 L566.15 508.62 L566.49 509.39 L566.82 510.16 L567.16 510.93 L567.49 511.70 L567.82 512.47 L568.15 513.24 L568.48 514.01 L568.80 514.78 L569.13 515.56 L569.45 516.33 L569.77 517.11 L570.09 517.88 L570.41 518.66 L570.73 519.44 L571.05 520.21 L571.36 520.99 L571.67 521.77 L571.99 522.55 L572.30 523.33 L572.61 524.11 L572.91 524.89 L573.22 525.67 L573.53 526.45 L573.83 527.24 L574.13 528.02 L574.43 528.80 L574.73 529.59 L575.03 530.37 L575.33 531.16 L575.62 531.95 L575.92 532.73 L576.21 533.52 L576.50 534.31 L576.79 535.10 L577.08 535.89 L577.37 536.68 L577.65 537.47 L577.94 538.26 L578.22 539.05 L578.50 539.85 L578.78 540.64 L579.06 541.43 L579.34 542.23 L579.61 543.02 L579.88 543.82 L580.16 544.61 L580.43 545.41 L580.70 546.21 L580.97 547.00 L581.23 547.80 L581.50 548.60 L582.45 551.44" fill="none" stroke="#e0251a" stroke-width="3.2" stroke-linecap="butt" stroke-linejoin="round"/>
<text x="157.88" y="163.80" font-size="19.20" font-weight="normal" text-anchor="start" textLength="20.21" lengthAdjust="spacingAndGlyphs" stroke="#1d1d1b" stroke-width="0.3">80</text>
<text x="157.88" y="212.60" font-size="19.20" font-weight="normal" text-anchor="start" textLength="19.98" lengthAdjust="spacingAndGlyphs" stroke="#1d1d1b" stroke-width="0.3">70</text>
<text x="157.88" y="261.40" font-size="19.20" font-weight="normal" text-anchor="start" textLength="19.98" lengthAdjust="spacingAndGlyphs" stroke="#1d1d1b" stroke-width="0.3">60</text>
<text x="157.88" y="310.20" font-size="19.20" font-weight="normal" text-anchor="start" textLength="19.98" lengthAdjust="spacingAndGlyphs" stroke="#1d1d1b" stroke-width="0.3">50</text>
<text x="157.88" y="359.00" font-size="19.20" font-weight="normal" text-anchor="start" textLength="20.00" lengthAdjust="spacingAndGlyphs" stroke="#1d1d1b" stroke-width="0.3">40</text>
<text x="157.88" y="407.80" font-size="19.20" font-weight="normal" text-anchor="start" textLength="19.98" lengthAdjust="spacingAndGlyphs" stroke="#1d1d1b" stroke-width="0.3">30</text>
<text x="157.88" y="456.60" font-size="19.20" font-weight="normal" text-anchor="start" textLength="19.98" lengthAdjust="spacingAndGlyphs" stroke="#1d1d1b" stroke-width="0.3">20</text>
<text x="157.08" y="505.40" font-size="19.20" font-weight="normal" text-anchor="start" textLength="21.15" lengthAdjust="spacingAndGlyphs" stroke="#1d1d1b" stroke-width="0.3">10</text>
<text x="167.34" y="554.20" font-size="19.20" font-weight="normal" text-anchor="start" textLength="10.86" lengthAdjust="spacingAndGlyphs" stroke="#1d1d1b" stroke-width="0.3">0</text>
<text x="217.72" y="163.80" font-size="19.20" font-weight="normal" text-anchor="start" textLength="10.76" lengthAdjust="spacingAndGlyphs" stroke="#1d1d1b" stroke-width="0.3">8</text>
<text x="217.72" y="212.60" font-size="19.20" font-weight="normal" text-anchor="start" textLength="9.93" lengthAdjust="spacingAndGlyphs" stroke="#1d1d1b" stroke-width="0.3">7</text>
<text x="217.72" y="261.40" font-size="19.20" font-weight="normal" text-anchor="start" textLength="9.93" lengthAdjust="spacingAndGlyphs" stroke="#1d1d1b" stroke-width="0.3">6</text>
<text x="217.72" y="310.20" font-size="19.20" font-weight="normal" text-anchor="start" textLength="9.93" lengthAdjust="spacingAndGlyphs" stroke="#1d1d1b" stroke-width="0.3">5</text>
<text x="217.72" y="359.00" font-size="19.20" font-weight="normal" text-anchor="start" textLength="10.08" lengthAdjust="spacingAndGlyphs" stroke="#1d1d1b" stroke-width="0.3">4</text>
<text x="217.72" y="407.80" font-size="19.20" font-weight="normal" text-anchor="start" textLength="9.93" lengthAdjust="spacingAndGlyphs" stroke="#1d1d1b" stroke-width="0.3">3</text>
<text x="217.72" y="456.60" font-size="19.20" font-weight="normal" text-anchor="start" textLength="9.93" lengthAdjust="spacingAndGlyphs" stroke="#1d1d1b" stroke-width="0.3">2</text>
<text x="220.92" y="505.40" font-size="19.20" font-weight="normal" text-anchor="start" textLength="7.27" lengthAdjust="spacingAndGlyphs" stroke="#1d1d1b" stroke-width="0.3">1</text>
<text x="217.72" y="554.20" font-size="19.20" font-weight="normal" text-anchor="start" textLength="9.93" lengthAdjust="spacingAndGlyphs" stroke="#1d1d1b" stroke-width="0.3">0</text>
<text x="235.18" y="574.90" font-size="16.50" font-weight="normal" text-anchor="start" textLength="9.66" lengthAdjust="spacingAndGlyphs" stroke="#1d1d1b" stroke-width="0.25">0</text>
<text x="280.82" y="574.90" font-size="16.50" font-weight="normal" text-anchor="start" textLength="18.13" lengthAdjust="spacingAndGlyphs" stroke="#1d1d1b" stroke-width="0.25">30</text>
<text x="335.08" y="574.90" font-size="16.50" font-weight="normal" text-anchor="start" textLength="18.31" lengthAdjust="spacingAndGlyphs" stroke="#1d1d1b" stroke-width="0.25">60</text>
<text x="375.00" y="574.90" font-size="16.50" font-weight="normal" text-anchor="start" textLength="19.48" lengthAdjust="spacingAndGlyphs" stroke="#1d1d1b" stroke-width="0.25">90</text>
<text x="424.00" y="574.90" font-size="16.50" font-weight="normal" text-anchor="start" textLength="27.67" lengthAdjust="spacingAndGlyphs" stroke="#1d1d1b" stroke-width="0.25">120</text>
<text x="476.82" y="574.90" font-size="16.50" font-weight="normal" text-anchor="start" textLength="27.83" lengthAdjust="spacingAndGlyphs" stroke="#1d1d1b" stroke-width="0.25">150</text>
<text x="525.92" y="574.90" font-size="16.50" font-weight="normal" text-anchor="start" textLength="28.05" lengthAdjust="spacingAndGlyphs" stroke="#1d1d1b" stroke-width="0.25">180</text>
<text x="567.72" y="575.70" font-size="18.30" font-weight="normal" text-anchor="start" textLength="73.44" lengthAdjust="spacingAndGlyphs">V [m<tspan font-size="8.5" dy="-7.6" dx="0.6">3</tspan><tspan dy="7.6" dx="0.6">/h]</tspan></text>
<text x="235.18" y="621.20" font-size="16.50" font-weight="normal" text-anchor="start" textLength="9.66" lengthAdjust="spacingAndGlyphs" stroke="#1d1d1b" stroke-width="0.25">0</text>
<text x="285.90" y="621.20" font-size="16.50" font-weight="normal" text-anchor="start" textLength="32.47" lengthAdjust="spacingAndGlyphs" stroke="#1d1d1b" stroke-width="0.25">0,02</text>
<text x="344.00" y="621.20" font-size="16.50" font-weight="normal" text-anchor="start" textLength="34.65" lengthAdjust="spacingAndGlyphs" stroke="#1d1d1b" stroke-width="0.25">0,04</text>
<text x="403.00" y="621.20" font-size="16.50" font-weight="normal" text-anchor="start" textLength="34.14" lengthAdjust="spacingAndGlyphs" stroke="#1d1d1b" stroke-width="0.25">0,06</text>
<text x="462.54" y="621.20" font-size="16.50" font-weight="normal" text-anchor="start" textLength="33.83" lengthAdjust="spacingAndGlyphs" stroke="#1d1d1b" stroke-width="0.25">0,08</text>
<text x="522.26" y="621.20" font-size="16.50" font-weight="normal" text-anchor="start" textLength="32.96" lengthAdjust="spacingAndGlyphs" stroke="#1d1d1b" stroke-width="0.25">0,10</text>
<text x="567.80" y="621.30" font-size="18.30" font-weight="normal" text-anchor="start" textLength="69.90" lengthAdjust="spacingAndGlyphs">V [m<tspan font-size="8.5" dy="-7.6" dx="0.6">3</tspan><tspan dy="7.6" dx="0.6">/s]</tspan></text>
<text x="227.78" y="127.60" font-size="20.00" font-weight="normal" text-anchor="start" textLength="119.42" lengthAdjust="spacingAndGlyphs" stroke="#1d1d1b" stroke-width="0.85">P<tspan font-size="10" dy="3.8" dx="-1.3">st</tspan><tspan dy="-3.8" dx="-2.2"> [mm H</tspan><tspan font-size="11" dy="3.5">2</tspan><tspan dy="-3.5">O]</tspan></text>
<text x="350.80" y="262.70" font-size="21.60" font-weight="normal" text-anchor="start" textLength="11.60" lengthAdjust="spacingAndGlyphs" stroke="#1d1d1b" stroke-width="0.9">4</text>
<text x="351.00" y="300.20" font-size="21.60" font-weight="normal" text-anchor="start" textLength="11.67" lengthAdjust="spacingAndGlyphs" stroke="#1d1d1b" stroke-width="0.9">3</text>
<text x="327.00" y="344.70" font-size="21.60" font-weight="normal" text-anchor="start" textLength="11.78" lengthAdjust="spacingAndGlyphs" stroke="#1d1d1b" stroke-width="0.9">2</text>
<text x="328.00" y="391.20" font-size="21.60" font-weight="normal" text-anchor="start" textLength="8.37" lengthAdjust="spacingAndGlyphs" stroke="#1d1d1b" stroke-width="0.9">1</text>
<text x="205.90" y="655.00" font-size="12.00" font-weight="normal" text-anchor="start" textLength="112.07" lengthAdjust="spacingAndGlyphs" stroke="#1d1d1b" stroke-width="0.8" word-spacing="1.5">1 - TURBO Ø100 LS</text>
<text x="206.70" y="669.60" font-size="12.00" font-weight="normal" text-anchor="start" textLength="113.14" lengthAdjust="spacingAndGlyphs" stroke="#1d1d1b" stroke-width="0.8" word-spacing="1.5">2 - TURBO Ø100 HS</text>
<text x="206.70" y="684.20" font-size="12.00" font-weight="normal" text-anchor="start" textLength="111.13" lengthAdjust="spacingAndGlyphs" stroke="#1d1d1b" stroke-width="0.8" word-spacing="1.5">3 - TURBO Ø125 LS</text>
<text x="206.70" y="698.80" font-size="12.00" font-weight="normal" text-anchor="start" textLength="113.15" lengthAdjust="spacingAndGlyphs" stroke="#1d1d1b" stroke-width="0.8" word-spacing="1.5">4 - TURBO Ø125 HS</text>
<g transform="translate(141.8 234) rotate(-90)"><text x="-1.00" y="0.00" font-size="20.00" font-weight="normal" text-anchor="start" textLength="64.15" lengthAdjust="spacingAndGlyphs" stroke="#1d1d1b" stroke-width="0.85">P<tspan font-size="10" dy="3.8" dx="-1.3">st</tspan><tspan dy="-3.8" dx="-2.2"> [Pa]</tspan></text></g>
</svg>
</body></html>
